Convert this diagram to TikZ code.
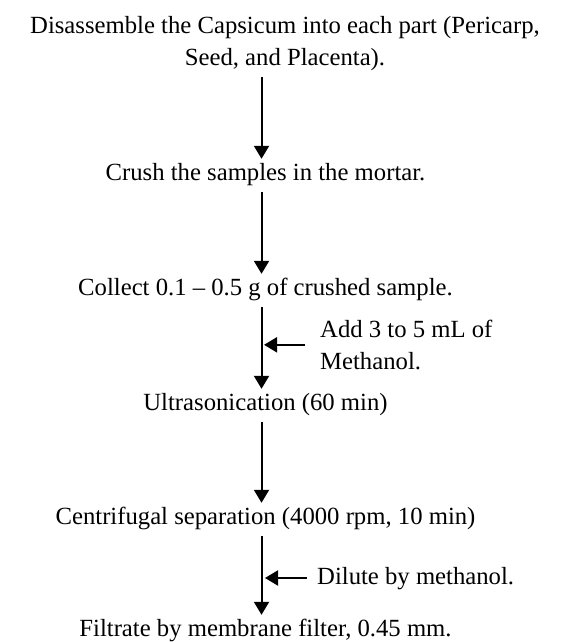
\documentclass[tikz,border=0pt]{standalone}
\usepackage{fontspec}
\setmainfont{Liberation Serif}
\usetikzlibrary{arrows.meta}

\tikzset{
  stage/.style={inner sep=0pt, anchor=base, text height=18pt, text depth=6pt, font=\fontsize{24.7}{31.5}\selectfont},
  note/.style={inner sep=0pt, align=left, font=\fontsize{24.7}{31.5}\selectfont},
  head/.style={inner sep=0pt, align=center, anchor=north, font=\fontsize{24.7}{32}\selectfont},
  flow/.style={line width=2pt, -{Triangle[width=15pt,length=13pt]}, shorten <=6pt, shorten >=3pt}
}

\begin{document}
\begin{tikzpicture}[x=1pt,y=-1pt]
\useasboundingbox (0,0) rectangle (562,642);

\node[head] (split) at (285,16) {Disassemble the Capsicum into each part (Pericarp,\\Seed, and Placenta).};
\node[stage] (crush) at (265.5,180) {Crush the samples in the mortar.};
\node[stage] (collect) at (265.5,295) {Collect 0.1 -- 0.5 g of crushed sample.};
\node[stage] (sonic) at (265.5,410) {Ultrasonication (60 min)};
\node[stage] (spin) at (265.5,524) {Centrifugal separation (4000 rpm, 10 min)};
\node[stage] (filter) at (265.5,636) {Filtrate by membrane filter, 0.45 mm.};

\node[note, anchor=north west] (addmeoh) at (320,320) {Add 3 to 5 mL of\\Methanol.};
\node[stage, anchor=west] (dilute) at (317,578) {Dilute by methanol.};

\coordinate (spine) at (261.5,0);

\draw[flow] (split.south -| spine) -- (crush.north -| spine);
\draw[flow] (crush.south -| spine) -- (collect.north -| spine);
\draw[flow] (collect.south -| spine) -- (sonic.north -| spine);
\draw[flow] (sonic.south -| spine) -- (spin.north -| spine);
\draw[flow] (spin.south -| spine) -- (filter.north -| spine);

\draw[flow, shorten <=15pt, shorten >=2.5pt] (addmeoh.west) -- (addmeoh.west -| spine);
\draw[flow, shorten <=10pt, shorten >=3.5pt] (dilute.west) -- (dilute.west -| spine);
\end{tikzpicture}
\end{document}
